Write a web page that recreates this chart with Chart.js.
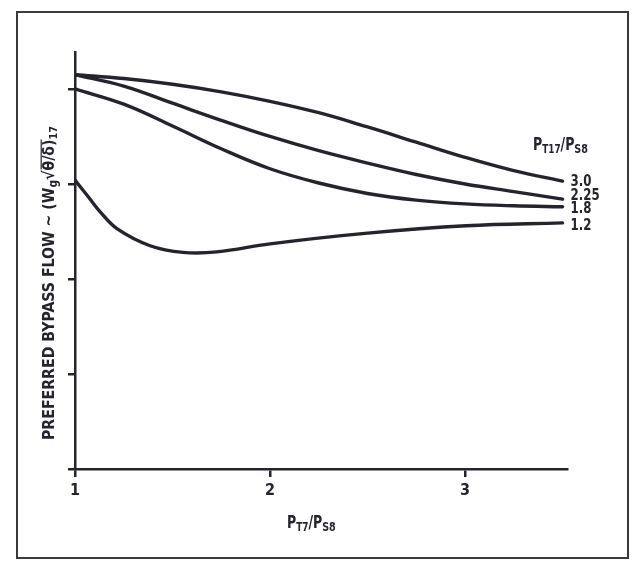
<!DOCTYPE html>
<html>
<head>
<meta charset="utf-8">
<script src="https://cdn.jsdelivr.net/npm/chart.js@4/dist/chart.umd.min.js"></script>
<style>
  html, body { margin: 0; padding: 0; background: #ffffff; }
  #wrap { width: 634px; height: 565px; }
</style>
</head>
<body>
<div id="wrap"><canvas id="c" width="634" height="565"></canvas></div>
<script>
// Pressure ratio P_T7/P_S8 (x) against preferred bypass flow, one curve per P_T17/P_S8
const xTickLabels = ['1', '2', '3'];
const seriesNames = ['3.0', '2.25', '1.8', '1.2'];

const ratioGrid = [1.0, 1.25, 1.5, 1.75, 2.0, 2.25, 2.5, 2.75, 3.0, 3.25, 3.5];
const flow30  = [4.15, 4.11, 4.05, 3.97, 3.87, 3.75, 3.60, 3.44, 3.28, 3.14, 3.03];
const flow225 = [4.15, 4.03, 3.85, 3.67, 3.50, 3.35, 3.22, 3.10, 3.00, 2.92, 2.84];
const flow18  = [4.00, 3.84, 3.61, 3.37, 3.16, 3.01, 2.90, 2.83, 2.79, 2.77, 2.76];

const ratio12 = [1.0, 1.07, 1.128, 1.215, 1.385, 1.554, 1.728, 2.0, 2.487, 3.005, 3.5];
const flow12  = [3.04, 2.86, 2.71, 2.53, 2.35, 2.28, 2.285, 2.37, 2.48, 2.56, 2.59];

const INK = '#24242c';
const FAMILY = "'DejaVu Sans Condensed', 'DejaVu Sans', sans-serif";
const SQUEEZE = 0.82;

function pairs(xs, ys) { return xs.map((x, i) => ({ x: x, y: ys[i] })); }

function lineSet(name, xs, ys) {
  return {
    label: name,
    data: pairs(xs, ys),
    borderColor: INK,
    borderWidth: 3.4,
    pointRadius: 0,
    fill: false,
    tension: 0.4,
    borderCapStyle: 'round'
  };
}

// width of a run of text pieces [text, size, baselineShift]
function richWidth(ctx, parts) {
  let w = 0;
  parts.forEach(p => { ctx.font = 'bold ' + p[1] + 'px ' + FAMILY; w += ctx.measureText(p[0]).width; });
  return w;
}
// draws the pieces left to right from the origin of the current transform
function drawRich(ctx, parts, overline) {
  let cx = 0;
  parts.forEach((p, i) => {
    ctx.font = 'bold ' + p[1] + 'px ' + FAMILY;
    ctx.fillText(p[0], cx, p[2]);
    const w = ctx.measureText(p[0]).width;
    if (overline && overline.indexOf(i) >= 0) {
      ctx.beginPath();
      ctx.lineWidth = 1.2;
      ctx.moveTo(cx + 1, -p[1] * 0.8);
      ctx.lineTo(cx + w, -p[1] * 0.8);
      ctx.stroke();
    }
    cx += w;
  });
}
function drawNarrow(ctx, parts, x, y) {
  ctx.save();
  ctx.translate(x, y);
  ctx.scale(SQUEEZE, 1);
  drawRich(ctx, parts);
  ctx.restore();
}

// label nudges for the curve-end captions (pixels)
const endLabelShift = [1, -3, 2, 3];

const decorations = {
  id: 'decorations',
  beforeDraw(chart) {
    const ctx = chart.ctx;
    ctx.save();
    ctx.fillStyle = '#ffffff';
    ctx.fillRect(0, 0, chart.width, chart.height);
    ctx.strokeStyle = '#3a3a3e';
    ctx.lineWidth = 2;
    ctx.strokeRect(17, 12, 611, 546);
    ctx.restore();
  },
  afterDraw(chart) {
    const ctx = chart.ctx;
    ctx.save();
    ctx.fillStyle = INK;
    ctx.strokeStyle = INK;
    ctx.textBaseline = 'alphabetic';

    // x-axis title
    drawNarrow(ctx, [['P', 17, 0], ['T7', 12, 3], ['/', 17, 0], ['P', 17, 0], ['S8', 13, 3]], 287, 528);

    // legend heading
    drawNarrow(ctx, [['P', 17, 0], ['T17', 12, 3], ['/', 17, 0], ['P', 17, 0], ['S8', 13, 3]], 533, 150);

    // y-axis title, rotated and fitted to its span
    const yt = [['PREFERRED BYPASS FLOW ~ (W', 16, 0], ['g', 12, 3], ['\u221A', 16, 0], ['\u03B8/\u03B4)', 16, 0], ['17', 11, 3]];
    const span = 314;
    const w = richWidth(ctx, yt);
    ctx.save();
    ctx.translate(54, 440);
    ctx.rotate(-Math.PI / 2);
    ctx.scale(span / w, 1);
    drawRich(ctx, yt, [3]);
    ctx.restore();

    // captions at the right-hand end of each curve
    ctx.textBaseline = 'middle';
    chart.data.datasets.forEach((ds, i) => {
      const meta = chart.getDatasetMeta(i);
      const last = meta.data[meta.data.length - 1];
      ctx.save();
      ctx.translate(last.x + 8, last.y + endLabelShift[i]);
      ctx.scale(SQUEEZE, 1);
      ctx.font = 'bold 16px ' + FAMILY;
      ctx.fillText(ds.label, 0, 0);
      ctx.restore();
    });
    ctx.restore();
  }
};

const axisLine = { color: INK, width: 2.5 };

new Chart(document.getElementById('c'), {
  type: 'line',
  data: {
    datasets: [
      lineSet(seriesNames[0], ratioGrid, flow30),
      lineSet(seriesNames[1], ratioGrid, flow225),
      lineSet(seriesNames[2], ratioGrid, flow18),
      lineSet(seriesNames[3], ratio12, flow12)
    ]
  },
  options: {
    responsive: false,
    animation: false,
    events: [],
    layout: { padding: { left: 0, top: 52, right: 67, bottom: 56 } },
    plugins: { legend: { display: false }, tooltip: { enabled: false } },
    scales: {
      x: {
        type: 'linear',
        min: 1,
        max: 3.523,
        border: axisLine,
        grid: { drawOnChartArea: false, drawTicks: true, tickLength: 8, color: INK, lineWidth: 2.5 },
        ticks: {
          stepSize: 1,
          includeBounds: false,
          color: INK,
          padding: 4,
          maxRotation: 0,
          font: { family: FAMILY, size: 16, weight: 'bold' },
          callback: (v) => xTickLabels[Math.round(v) - 1] || ''
        },
        afterFit: (s) => { s.height = 40; }
      },
      y: {
        type: 'linear',
        min: 0,
        max: 4.389,
        border: axisLine,
        grid: { drawOnChartArea: false, drawTicks: true, tickLength: 7, color: INK, lineWidth: 2.5 },
        ticks: { stepSize: 1, includeBounds: false, callback: () => '' },
        afterFit: (s) => { s.width = 75; }
      }
    }
  },
  plugins: [decorations]
});
</script>
</body>
</html>
